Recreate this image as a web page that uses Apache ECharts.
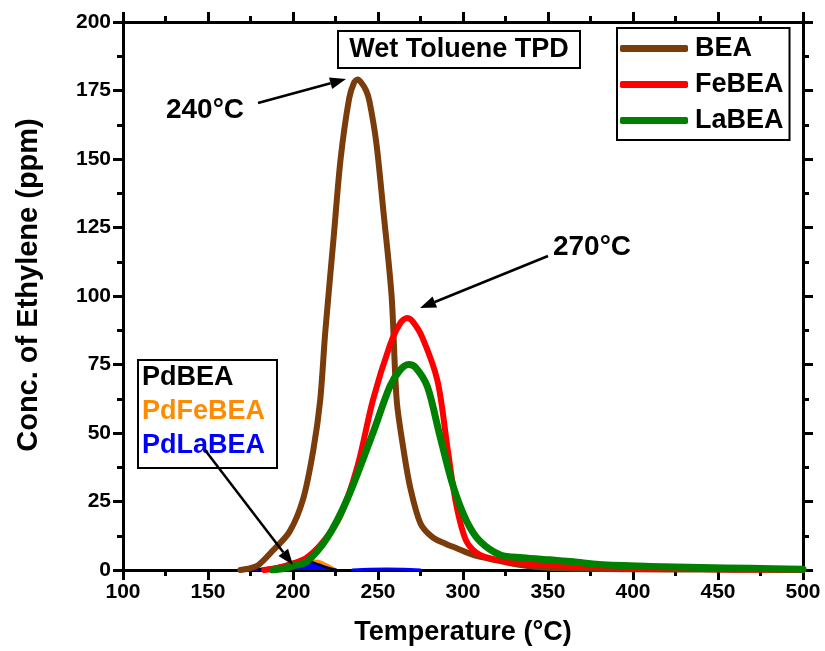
<!DOCTYPE html>
<html><head><meta charset="utf-8">
<script src="https://cdn.jsdelivr.net/npm/echarts@6/dist/echarts.min.js"></script>
<style>html,body{margin:0;padding:0;background:#fff}#c{width:825px;height:651px}</style>
</head><body><div id="c"></div>
<script>
// ---- data ----
var xTicks = [100,150,200,250,300,350,400,450,500];
var yTicks = [0,25,50,75,100,125,150,175,200];

var beaT = [169,175,180,188,198,206,212,216,219,224,228,233,236,238,240,243,245,249,253,258,261,265,269,275,282,290,296,306,320,332,350,380,420,460,500];
var beaV = [0,0.7,2,7,14,26,44,62,87,122,150,172,178,179,178,175,171,156,132,100,62,44,30,17,12,9.5,8,5.5,3.5,2,0.8,0.4,0.2,0.1,0];

var feT = [183,190,198,208,218,228,238,247,257,263,267,270,276,285,291,296,302,310,326,345,380,420,460,500];
var feV = [0,0.7,2,4.5,10.5,20,38,62,82,90,92,91,85,69,44,24,10.5,5.5,3,2,1,0.5,0.2,0.1];

var laT = [188,195,200,208,220,232,247,257,263,268,272,279,286,294,302,310,322,335,351,365,380,410,440,469,500];
var laV = [0,0.6,1.5,3,11.6,26,50,67,73,75,74,67,50,31,18,10.5,5.5,4.5,3.7,3,2,1.3,0.9,0.6,0.3];

var pdT = [170,178,185,195,200,205,210,215,220,226];
var pdBEA = [0,0.3,0.8,2,3,3.4,3.2,2,0.8,0];
var pdFeBEA = [0,0.2,0.5,1.5,2.4,3.1,3.6,3.4,2,0];
var pdLaBEA = [0,0.1,0.4,1.2,2,2.6,2.7,2.1,1,0];
var pdLaT2 = [235,245,255,265,275];
var pdLaV2 = [0,0.3,0.4,0.3,0];

function pairs(t,v){return t.map(function(x,i){return [x,v[i]];});}

var FONT = 'Liberation Sans';
var chart = echarts.init(document.getElementById('c'), null, {renderer:'canvas'});

function lineSeries(name,t,v,color,w,extra){
  var s = {name:name,type:'line',data:pairs(t,v),smooth:0.3,symbol:'none',
    lineStyle:{color:color,width:w,cap:'round',join:'round'},itemStyle:{color:color},z:3};
  if(extra){for(var k in extra)s[k]=extra[k];}
  return s;
}

var axisCommon = {
  axisLine:{show:true,onZero:false,lineStyle:{color:'#000',width:3}},
  axisTick:{show:true,inside:false,length:10,lineStyle:{color:'#000',width:3}},
  minorTick:{show:true,splitNumber:2,length:6,lineStyle:{color:'#000',width:3}},
  splitLine:{show:false}
};

chart.setOption({
  backgroundColor:'#fff',
  animation:false,
  grid:{left:123,right:22,top:22,bottom:79,containLabel:false},
  xAxis:[
    Object.assign({type:'value',min:100,max:500,interval:50,position:'bottom',
      name:'Temperature (°C)',nameLocation:'middle',nameGap:49,
      nameTextStyle:{fontFamily:FONT,fontWeight:'bold',fontSize:27,color:'#000'},
      axisLabel:{fontFamily:FONT,fontWeight:'bold',fontSize:21,color:'#000',margin:12,
        formatter:function(v){return xTicks.indexOf(v)>=0?String(v):'';}}},axisCommon),
    Object.assign({type:'value',min:100,max:500,interval:50,position:'top',
      axisLabel:{show:false}},axisCommon)
  ],
  yAxis:[
    Object.assign({type:'value',min:0,max:200,interval:25,position:'left',
      axisLabel:{fontFamily:FONT,fontWeight:'bold',fontSize:21,color:'#000',margin:12,
        formatter:function(v){return yTicks.indexOf(v)>=0?String(v):'';}}},axisCommon),
    Object.assign({type:'value',min:0,max:200,interval:25,position:'right',
      axisLabel:{show:false}},axisCommon)
  ],
  legend:{
    data:['BEA','FeBEA','LaBEA'],orient:'vertical',left:617,top:28,
    padding:[7,6,6,3],itemGap:9,itemWidth:68,itemHeight:7,icon:'roundRect',
    borderColor:'#000',borderWidth:2,backgroundColor:'#fff',
    textStyle:{fontFamily:FONT,fontWeight:'bold',fontSize:27,color:'#000',padding:[0,0,0,2]}
  },
  series:[
    lineSeries('PdFeBEA',pdT,pdFeBEA,'#ff8c00',2,{areaStyle:{color:'#ff8c00',opacity:1},z:2}),
    lineSeries('PdLaBEA',pdT,pdLaBEA,'#0000ff',2,{areaStyle:{color:'#0000ff',opacity:1},z:2}),
    lineSeries('PdBEA',pdT,pdBEA,'#000000',2,{z:2}),
    lineSeries('PdLaBEA2',pdLaT2,pdLaV2,'#0000ff',3,{z:2}),
    lineSeries('BEA',beaT,beaV,'#7a3c0a',6),
    lineSeries('FeBEA',feT,feV,'#ff0000',6),
    lineSeries('LaBEA',laT,laV,'#008000',7)
  ]
});

// annotations
function arrow(x1,y1,x2,y2){
  var ang=Math.atan2(y2-y1,x2-x1), L=16, W=6;
  var bx=x2-L*Math.cos(ang), by=y2-L*Math.sin(ang);
  var px=-Math.sin(ang), py=Math.cos(ang);
  return [
    {type:'line',shape:{x1:x1,y1:y1,x2:bx,y2:by},style:{stroke:'#000',lineWidth:2.5},z:10},
    {type:'polygon',shape:{points:[[x2,y2],[bx+W*px,by+W*py],[bx-W*px,by-W*py]]},style:{fill:'#000'},z:10}
  ];
}
var F = function(s){return 'bold '+s+'px "Liberation Sans"';};
var g=[];
g.push({type:'text',x:29,y:285,rotation:Math.PI/2,style:{text:'Conc. of Ethylene (ppm)',font:F(29),fill:'#000',textAlign:'center',textVerticalAlign:'middle'},z:10});
g.push({type:'rect',shape:{x:338,y:31,width:242,height:37},style:{fill:'#fff',stroke:'#000',lineWidth:2},z:9});
g.push({type:'text',x:459,y:50,style:{text:'Wet Toluene TPD',font:F(27),fill:'#000',textAlign:'center',textVerticalAlign:'middle'},z:10});
g.push({type:'text',x:205,y:110,style:{text:'240°C',font:F(28),fill:'#000',textAlign:'center',textVerticalAlign:'middle'},z:10});
g.push({type:'text',x:592,y:247,style:{text:'270°C',font:F(28),fill:'#000',textAlign:'center',textVerticalAlign:'middle'},z:10});
g.push({type:'rect',shape:{x:138,y:360,width:139,height:108},style:{fill:'#fff',stroke:'#000',lineWidth:2},z:9});
g.push({type:'text',x:142,y:378,style:{text:'PdBEA',font:F(27),fill:'#000',textAlign:'left',textVerticalAlign:'middle'},z:10});
g.push({type:'text',x:142,y:412,style:{text:'PdFeBEA',font:F(27),fill:'#ff8c00',textAlign:'left',textVerticalAlign:'middle'},z:10});
g.push({type:'text',x:142,y:446,style:{text:'PdLaBEA',font:F(27),fill:'#0000ff',textAlign:'left',textVerticalAlign:'middle'},z:10});
g=g.concat(arrow(258,103,346,79));
g=g.concat(arrow(548,256,420,308));
g=g.concat(arrow(205,450,293,565));
chart.setOption({graphic:g});
</script>
</body></html>
